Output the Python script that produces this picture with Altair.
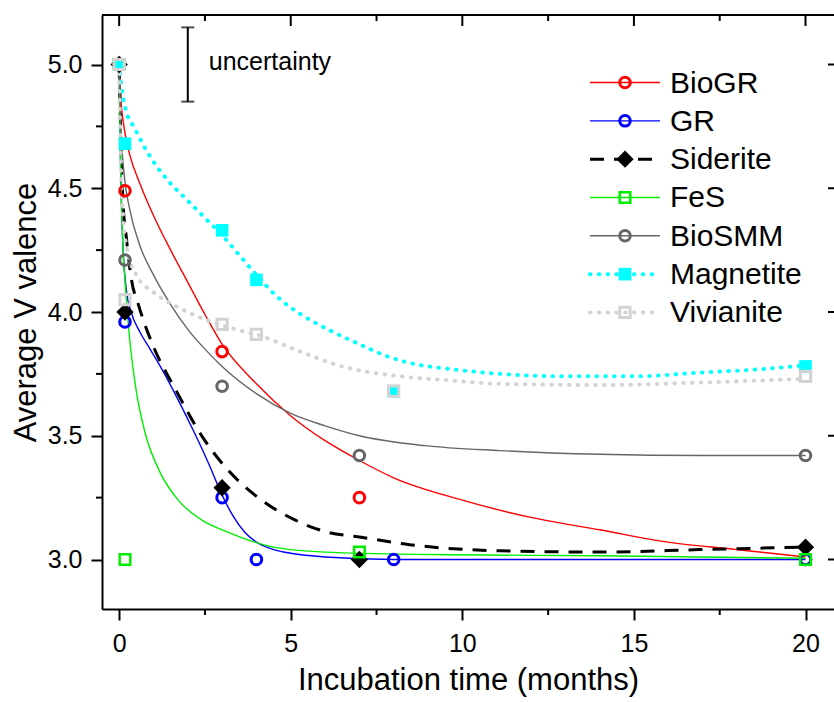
import altair as alt
import pandas as pd

FONT = "Liberation Sans"

# ---------------- measured points ----------------
series_names = ["BioGR", "GR", "Siderite", "FeS", "BioSMM", "Magnetite", "Vivianite"]

pts_x = {
    "BioGR":     [0, 0.17, 3, 7, 20],
    "GR":        [0, 0.17, 3, 4, 8, 20],
    "Siderite":  [0, 0.17, 3, 7, 20],
    "FeS":       [0, 0.17, 7, 20],
    "BioSMM":    [0, 0.17, 3, 7, 20],
    "Magnetite": [0, 0.17, 3, 4, 8, 20],
    "Vivianite": [0, 0.17, 3, 4, 8, 20],
}
pts_y = {
    "BioGR":     [5.0, 4.49, 3.84, 3.25, 3.0],
    "GR":        [5.0, 3.96, 3.25, 3.0, 3.0, 3.0],
    "Siderite":  [5.0, 4.0, 3.29, 3.0, 3.05],
    "FeS":       [5.0, 3.0, 3.03, 3.0],
    "BioSMM":    [5.0, 4.21, 3.70, 3.42, 3.42],
    "Magnetite": [5.0, 4.68, 4.33, 4.13, 3.68, 3.78],
    "Vivianite": [5.0, 4.05, 3.95, 3.91, 3.68, 3.74],
}

# ---------------- fitted curves ----------------
fit_x = {
    "BioGR":     [0, 0.05, 0.15, 0.3, 0.6, 1.0, 1.5, 2.0, 2.5, 3.0, 4.0, 5.0, 6.0, 7.0, 8.0, 10, 12, 14, 16, 18, 20],
    "GR":        [0, 0.04, 0.1, 0.2, 0.35, 0.6, 0.9, 1.24, 1.7, 2.2, 2.6, 3.0, 3.3, 3.66, 4.0, 4.5, 5.0, 6.0, 8.0, 12, 20],
    "Siderite":  [0, 0.05, 0.11, 0.21, 0.36, 0.56, 1.0, 1.63, 2.5, 3.18, 4.15, 5.12, 6.08, 7.05, 8.46, 11.1, 14, 16.9, 20],
    "FeS":       [0, 0.04, 0.1, 0.2, 0.3, 0.5, 0.76, 1.2, 1.72, 2.4, 3.18, 4.5, 6.0, 9.0, 14, 20],
    "BioSMM":    [0, 0.05, 0.15, 0.3, 0.6, 1.0, 1.5, 2.0, 2.5, 3.0, 4.0, 5.0, 6.0, 7.0, 8.9, 11.1, 14, 17, 20],
    "Magnetite": [0, 0.1, 0.17, 0.46, 0.94, 1.43, 2.0, 2.5, 3.0, 3.5, 4.0, 4.62, 5.3, 6.08, 7.0, 7.83, 8.6, 9.62, 11.1, 13, 15, 16.9, 18.8, 20],
    "Vivianite": [0, 0.05, 0.12, 0.25, 0.5, 1.0, 1.7, 2.5, 3.4, 4.2, 5.1, 6.5, 8.2, 9.5, 11.1, 14, 16.9, 20],
}
fit_y = {
    "BioGR":     [5.0, 4.86, 4.74, 4.64, 4.52, 4.39, 4.25, 4.12, 3.99, 3.87, 3.71, 3.58, 3.48, 3.40, 3.33, 3.24, 3.17, 3.12, 3.07, 3.04, 3.01],
    "GR":        [5.0, 4.6, 4.3, 4.1, 4.0, 3.92, 3.85, 3.77, 3.65, 3.51, 3.39, 3.26, 3.18, 3.11, 3.07, 3.04, 3.025, 3.01, 3.0, 3.0, 3.0],
    "Siderite":  [5.0, 4.7, 4.45, 4.3, 4.13, 4.03, 3.86, 3.69, 3.48, 3.36, 3.24, 3.16, 3.11, 3.09, 3.06, 3.035, 3.03, 3.04, 3.05],
    "FeS":       [5.0, 4.6, 4.3, 4.07, 3.9, 3.68, 3.51, 3.35, 3.24, 3.16, 3.11, 3.05, 3.03, 3.02, 3.015, 3.005],
    "BioSMM":    [5.0, 4.75, 4.55, 4.42, 4.27, 4.15, 4.03, 3.93, 3.85, 3.78, 3.67, 3.59, 3.54, 3.50, 3.46, 3.44, 3.425, 3.42, 3.42],
    "Magnetite": [5.0, 4.88, 4.83, 4.74, 4.62, 4.53, 4.45, 4.38, 4.31, 4.23, 4.15, 4.06, 3.99, 3.93, 3.87, 3.82, 3.79, 3.77, 3.75, 3.74, 3.74, 3.755, 3.77, 3.785],
    "Vivianite": [5.0, 4.6, 4.38, 4.24, 4.15, 4.08, 4.02, 3.97, 3.93, 3.9, 3.85, 3.78, 3.74, 3.725, 3.71, 3.705, 3.715, 3.73],
}

# uncertainty bar
unc_x = [2]
unc_center = [5.0]
unc_half = [0.15]
unc_label = ["uncertainty"]

x_major = [0, 5, 10, 15, 20]
x_minor = [2.5, 7.5, 12.5, 17.5]
y_major = [3.0, 3.5, 4.0, 4.5, 5.0]
y_minor = [3.25, 3.75, 4.25, 4.75]

# ---------------- styles ----------------
style = {
    "BioGR":     dict(color="#ff0000", lw=1.4, dash=None, shape="circle", filled=False, size=112, sw=3.0, mcolor="#ff0000"),
    "GR":        dict(color="#0000ff", lw=1.4, dash=None, shape="circle", filled=False, size=112, sw=3.0, mcolor="#0000ff"),
    "Siderite":  dict(color="#000000", lw=3.0, dash=[14, 10], shape="diamond", filled=True, size=300, sw=0, mcolor="#000000"),
    "FeS":       dict(color="#00ee00", lw=1.4, dash=None, shape="square", filled=False, size=112, sw=2.5, mcolor="#00ee00"),
    "BioSMM":    dict(color="#666666", lw=1.4, dash=None, shape="circle", filled=False, size=112, sw=3.0, mcolor="#666666"),
    "Magnetite": dict(color="#00ffff", lw=4.0, dash=[0.5, 8.3], shape="square", filled=True, size=160, sw=0, mcolor="#00ffff"),
    "Vivianite": dict(color="#d3d3d3", lw=4.0, dash=[0.5, 8.3], shape="square", filled=False, size=105, sw=3.0, mcolor="#d3d3d3"),
}

W, H = 732, 594
x_scale = alt.Scale(domain=[-0.5, 20.83], nice=False, zero=False)
y_scale = alt.Scale(domain=[2.8, 5.2], nice=False, zero=False)

x_axis = alt.Axis(values=x_major, format="d", tickSize=11, tickWidth=2, tickColor="black",
                  domainColor="black", domainWidth=2, labelFontSize=25, labelFont=FONT,
                  labelColor="black", labelPadding=11, titleFontSize=31, titleFont=FONT,
                  titleFontWeight="normal", titleColor="black", titlePadding=9, grid=False,
                  title="Incubation time (months)")
y_axis = alt.Axis(values=y_major, format=".1f", tickSize=11, tickWidth=2, tickColor="black",
                  domainColor="black", domainWidth=2, labelFontSize=25, labelFont=FONT,
                  labelColor="black", labelPadding=9, titleFontSize=31, titleFont=FONT,
                  titleFontWeight="normal", titleColor="black", titlePadding=5, grid=False,
                  title="Average V valence")

X = alt.X("x:Q", scale=x_scale, axis=x_axis)
Y = alt.Y("y:Q", scale=y_scale, axis=y_axis)

layers = []

# frame: top line and extra ticks
one = pd.DataFrame({"k": [0]})
layers.append(alt.Chart(one).mark_rule(color="black", strokeWidth=2).encode(
    x=alt.value(0), x2=alt.value(W), y=alt.value(0)))

df_xmaj = pd.DataFrame({"x": x_major})
df_xmin = pd.DataFrame({"x": x_minor})
df_ymaj = pd.DataFrame({"y": y_major})
df_ymin = pd.DataFrame({"y": y_minor})

layers.append(alt.Chart(df_xmin).mark_rule(color="black", strokeWidth=2).encode(
    x=X, y=alt.value(H), y2=alt.value(H + 6)))
layers.append(alt.Chart(df_xmaj).mark_rule(color="black", strokeWidth=2).encode(
    x=X, y=alt.value(0), y2=alt.value(11)))
layers.append(alt.Chart(df_xmin).mark_rule(color="black", strokeWidth=2).encode(
    x=X, y=alt.value(0), y2=alt.value(6)))
layers.append(alt.Chart(df_ymin).mark_rule(color="black", strokeWidth=2).encode(
    y=Y, x=alt.value(-6), x2=alt.value(0)))
layers.append(alt.Chart(df_ymaj).mark_rule(color="black", strokeWidth=2).encode(
    y=Y, x=alt.value(W - 6), x2=alt.value(W)))

# uncertainty bar
df_unc = pd.DataFrame({"x": unc_x, "lo": [c - h for c, h in zip(unc_center, unc_half)],
                       "hi": [c + h for c, h in zip(unc_center, unc_half)],
                       "mid": unc_center, "label": unc_label})
layers.append(alt.Chart(df_unc).mark_rule(color="black", strokeWidth=2).encode(
    x=X, y=alt.Y("lo:Q", scale=y_scale, axis=y_axis), y2="hi:Q"))
layers.append(alt.Chart(df_unc).mark_tick(color="black", orient="horizontal", size=13, thickness=2).encode(
    x=X, y=alt.Y("lo:Q", scale=y_scale, axis=y_axis)))
layers.append(alt.Chart(df_unc).mark_tick(color="black", orient="horizontal", size=13, thickness=2).encode(
    x=X, y=alt.Y("hi:Q", scale=y_scale, axis=y_axis)))
layers.append(alt.Chart(df_unc).mark_text(font=FONT, fontSize=25, align="left", baseline="middle",
                                          dx=21, dy=-3, color="black").encode(
    x=X, y=alt.Y("mid:Q", scale=y_scale, axis=y_axis), text="label:N"))


def mark_kwargs(st):
    kw = dict(shape=st["shape"], filled=st["filled"], size=st["size"], opacity=1)
    if st["filled"]:
        kw.update(fill=st["mcolor"], strokeWidth=0)
    else:
        kw.update(color=st["mcolor"], strokeWidth=st["sw"])
    return kw


def line_kwargs(st):
    kw = dict(color=st["color"], strokeWidth=st["lw"])
    if st["dash"]:
        kw.update(strokeDash=st["dash"], strokeCap="round" if st["dash"][0] < 1 else "butt")
    return kw


# curves and points
for name in series_names:
    st = style[name]
    dfc = pd.DataFrame({"x": fit_x[name], "y": fit_y[name]})
    layers.append(alt.Chart(dfc).mark_line(interpolate="monotone", **line_kwargs(st)).encode(x=X, y=Y))
for name in series_names:
    st = style[name]
    dfp = pd.DataFrame({"x": pts_x[name], "y": pts_y[name]})
    layers.append(alt.Chart(dfp).mark_point(**mark_kwargs(st)).encode(x=X, y=Y))

# legend (pixel layout inside the plot area)
leg_top = 67.5
leg_step = 38.33
lx1, lx2, lm, lt = 488, 558, 523, 568
for i, name in enumerate(series_names):
    st = style[name]
    yy = leg_top + i * leg_step
    layers.append(alt.Chart(one).mark_rule(**line_kwargs(st)).encode(
        x=alt.value(lx1), x2=alt.value(lx2), y=alt.value(yy)))
    layers.append(alt.Chart(one).mark_point(**mark_kwargs(st)).encode(
        x=alt.value(lm), y=alt.value(yy)))
    layers.append(alt.Chart(one).mark_text(font=FONT, fontSize=30, align="left", baseline="middle",
                                           color="black", dy=1).encode(
        x=alt.value(lt), y=alt.value(yy), text=alt.value(name)))

chart = alt.layer(*layers).properties(
    width=W, height=H,
    autosize=alt.AutoSizeParams(type="none"),
    padding={"left": 102, "top": 15, "right": 0, "bottom": 93},
).configure_view(stroke=None).configure(background="white")

chart.save("out.html", embed_options={"renderer": "svg", "actions": False})
